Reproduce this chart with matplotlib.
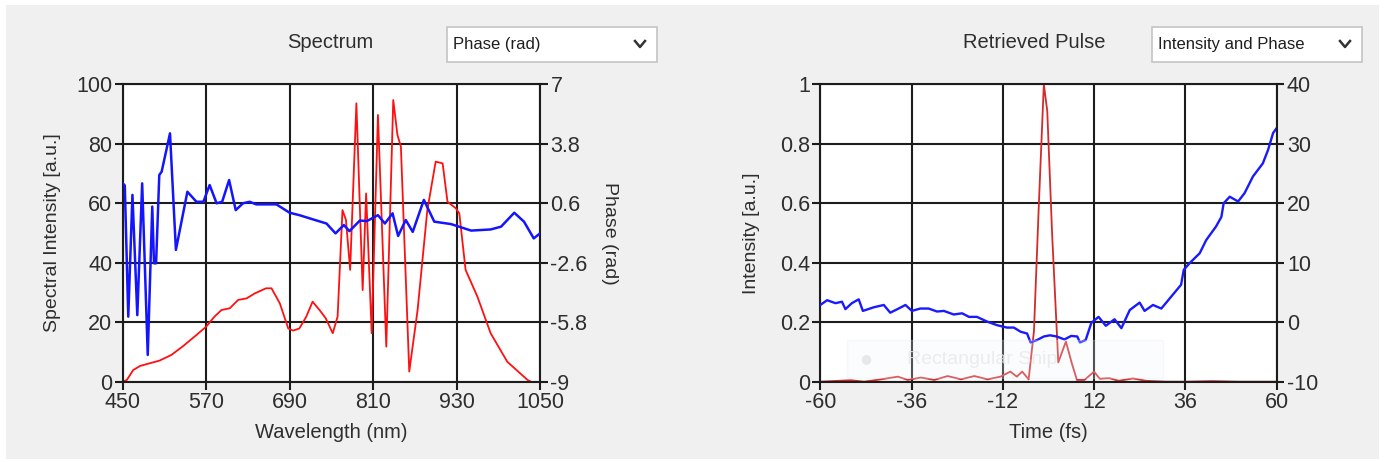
import matplotlib
matplotlib.use("Agg")
from matplotlib import pyplot as plt
from matplotlib.patches import Rectangle
from matplotlib.lines import Line2D
import numpy as np

# ---- spectrum panel data ----
wl_phase = [450, 453, 458, 464, 471, 478, 486, 492.5, 495, 498, 502.6, 506, 518, 526.5,
            543, 556, 566, 575, 585, 593, 603, 612.5, 623, 632.6, 642, 671, 690, 704,
            723, 743, 756, 768, 776, 791, 801, 817, 827, 838, 846, 857, 867, 883, 898,
            922, 951, 979, 994, 1013, 1027, 1041, 1049]
phase_rad = [1.67, 1.56, -5.50, 1.05, -5.42, 1.67, -7.56, 0.42, -2.63, -2.63, 2.12, 2.30,
             4.36, -1.91, 1.22, 0.68, 0.68, 1.58, 0.60, 0.68, 1.85, 0.23, 0.60, 0.68,
             0.54, 0.54, 0.09, -0.04, -0.26, -0.49, -1.02, -0.57, -0.90, -0.33, -0.36,
             -0.04, -0.49, 0.06, -1.16, -0.30, -0.94, 0.78, -0.39, -0.52, -0.87, -0.81,
             -0.66, 0.09, -0.39, -1.29, -1.05]

wl_spec = [450, 456, 465, 475, 489, 503, 520, 537, 556, 570, 582, 592, 604, 616, 628, 640,
           656, 664, 676, 688, 695, 704, 714, 723, 733, 742, 752, 759, 766, 771, 777, 786,
           795, 800, 808, 817, 829, 839, 845, 850, 862, 874, 888, 900, 910, 917, 929, 934,
           943, 960, 979, 1003, 1032, 1037]
spec_int = [0, 0.6, 3.9, 5.3, 6.2, 7.1, 9, 12, 15.7, 18.5, 21.9, 24.1, 24.7, 27.5, 28, 29.7,
            31.4, 31.4, 26.3, 17.9, 17.2, 17.9, 21.9, 26.9, 24.1, 21.3, 16.3, 21.9, 57.7,
            54.4, 37.6, 93.6, 30.8, 63.3, 16.3, 89.7, 11.8, 94.7, 83, 79, 3.4, 24.1, 57.7,
            74, 73.4, 60.5, 58.3, 56.6, 37.6, 28.6, 16.3, 6.7, 0.6, 0]

wl_ticks = [450, 570, 690, 810, 930, 1050]
spec_ticks = [0, 20, 40, 60, 80, 100]
phase_ticks = [-9, -5.8, -2.6, 0.6, 3.8, 7]
phase_labels = ["-9", "-5.8", "-2.6", "0.6", "3.8", "7"]

# ---- retrieved pulse panel data ----
t_int = [-60, -52, -48.5, -44, -39.6, -37, -33.5, -30, -26.5, -23, -19.5, -16, -12.6, -10,
         -8.3, -6.9, -5.2, -3.8, -2.5, -1.2, -0.3, 1, 2.6, 4.6, 6.2, 7.5, 9.5, 12, 13.5, 16,
         18.5, 22.2, 25.7, 31, 36, 43, 50, 60]
pulse_int = [0, 0.005, 0, 0.008, 0.017, 0.006, 0.014, 0.006, 0.019, 0.008, 0.019, 0.008,
             0.017, 0.034, 0.017, 0.034, 0.008, 0.17, 0.6, 1.0, 0.91, 0.49, 0.065, 0.135,
             0.06, 0.006, 0.006, 0.034, 0.01, 0.012, 0.003, 0.011, 0.003, 0, 0, 0.002, 0, 0]

t_phase = [-60, -58.2, -56, -54.3, -53.4, -51.7, -49.9, -48.8, -46, -43.3, -41.6, -39.4,
           -37.6, -35.9, -33.7, -31.5, -29.3, -27.5, -24.9, -22.7, -20.9, -18.8, -16.1,
           -13.5, -10.9, -9.1, -7.3, -5.6, -4.7, -3, -1.2, 0.4, 2.2, 4.2, 6, 7.6, 8.3, 9.8,
           11.3, 13.2, 15.1, 17.4, 19.2, 21.4, 24, 25.3, 27.5, 29.7, 32.3, 34.9, 35.6, 37.1,
           39.8, 41.5, 44.1, 45.5, 46.1, 47.7, 49.9, 51.6, 53.8, 56.4, 57.8, 59.1, 60]
pulse_phase = [2.9, 3.7, 3.2, 3.45, 2.2, 3.2, 3.85, 1.9, 2.5, 2.9, 1.6, 2.3, 2.9, 1.9, 2.3,
               2.3, 1.8, 1.9, 1.3, 1.5, 0.9, 0.9, 0.1, -0.5, -0.9, -0.9, -1.6, -1.9, -3.4,
               -3.0, -2.4, -2.2, -2.4, -2.9, -2.3, -2.4, -3.4, -3.0, -0.1, 0.9, -0.6, 0.5,
               -1.0, 2.05, 3.3, 1.9, 2.9, 2.3, 4.3, 6.3, 8.8, 9.9, 11.6, 13.8, 16.1, 17.7,
               20, 21.1, 20.3, 21.7, 24.5, 26.7, 29, 31.8, 32.6]

t_ticks = [-60, -36, -12, 12, 36, 60]
int_ticks = [0, 0.2, 0.4, 0.6, 0.8, 1]
int_labels = ["0", "0.2", "0.4", "0.6", "0.8", "1"]
ph_ticks = [-10, 0, 10, 20, 30, 40]

plt.rcParams['font.family'] = ['Liberation Sans', 'DejaVu Sans']
plt.rcParams['axes.unicode_minus'] = False

W, H = 1384, 462
TXT = '#2e2e2e'
GRID = '#1c1c1c'


def fx(x):
    return x / W


def fy(y):
    return 1 - y / H


fig = plt.figure(figsize=(W / 100, H / 100), dpi=100, facecolor='white')
fig.patches.append(Rectangle((fx(6), fy(459)), fx(1379) - fx(6), fy(5) - fy(459),
                             transform=fig.transFigure, facecolor='#f0f0f0',
                             edgecolor='none', zorder=-10))


def style(ax, twin):
    for s in ax.spines.values():
        s.set_color(GRID)
        s.set_linewidth(1.5)
    for a in (ax, twin):
        a.tick_params(direction='out', length=6, width=1.5, color=GRID,
                      labelsize=15.5, labelcolor=TXT, pad=1.5)
    for s in twin.spines.values():
        s.set_visible(False)
    ax.grid(True, color=GRID, linewidth=1.5)
    ax.set_axisbelow(True)


def dropdown(x0, x1, label):
    fig.patches.append(Rectangle((fx(x0), fy(62)), fx(x1) - fx(x0), fy(27) - fy(62),
                                 transform=fig.transFigure, facecolor='white',
                                 edgecolor='#c4c4c4', linewidth=1.2))
    fig.text(fx(x0 + 6), fy(45), label, fontsize=12, color='#1e1e1e', va='center', ha='left')
    cx = x1 - 17
    fig.lines.append(Line2D([fx(cx - 5), fx(cx), fx(cx + 5)], [fy(41), fy(47), fy(41)],
                            transform=fig.transFigure, color='#333333', linewidth=1.8))


# ---- left panel ----
ax1 = fig.add_axes([fx(122.7), fy(381.7), fx(540) - fx(122.7), fy(84.3) - fy(381.7)])
ax1.set_facecolor('white')
ax1.plot(wl_spec, spec_int, color='#ff1010', linewidth=1.3)
ax1.set_xlim(450, 1050)
ax1.set_ylim(0, 100)
ax1.set_xticks(wl_ticks)
ax1.set_yticks(spec_ticks)
ax1.set_xlabel('Wavelength (nm)', fontsize=14.5, color=TXT, labelpad=7)
ax1.set_ylabel('Spectral Intensity [a.u.]', fontsize=14, color=TXT, labelpad=11)
ax1b = ax1.twinx()
ax1b.plot(wl_phase, phase_rad, color='#1414ff', linewidth=1.8)
ax1b.set_ylim(-9, 7)
ax1b.set_yticks(phase_ticks)
ax1b.set_yticklabels(phase_labels)
ax1b.set_ylabel('Phase (rad)', fontsize=14, color=TXT, rotation=270, labelpad=22)
style(ax1, ax1b)

# ---- right panel ----
ax2 = fig.add_axes([fx(820.3), fy(381.7), fx(1276.5) - fx(820.3), fy(84.3) - fy(381.7)])
ax2.set_facecolor('white')
ax2.plot(t_int, pulse_int, color='#d42a2a', linewidth=1.3)
ax2.set_xlim(-60, 60)
ax2.set_ylim(0, 1)
ax2.set_xticks(t_ticks)
ax2.set_yticks(int_ticks)
ax2.set_yticklabels(int_labels)
ax2.set_xlabel('Time (fs)', fontsize=14.5, color=TXT, labelpad=7)
ax2.set_ylabel('Intensity [a.u.]', fontsize=14, color=TXT, labelpad=14)
ax2b = ax2.twinx()
ax2b.plot(t_phase, pulse_phase, color='#1a1aff', linewidth=1.7)
ax2b.set_ylim(-10, 40)
ax2b.set_yticks(ph_ticks)
style(ax2, ax2b)

# faint screen-capture overlay in the right panel
fig.patches.append(Rectangle((fx(847), fy(378)), fx(1163) - fx(847), fy(340) - fy(378),
                             transform=fig.transFigure, facecolor='#eef4fb',
                             edgecolor='#e2eaf4', linewidth=1, alpha=0.25, zorder=5))
fig.text(fx(866), fy(359), '\u25cf', fontsize=9, color='#e4e4e4', ha='center', va='center',
         zorder=6, family='DejaVu Sans', alpha=0.8)
fig.text(fx(907), fy(359), 'Rectangular Snip', fontsize=14, color='#e8e8e8',
         ha='left', va='center', zorder=6, alpha=0.8)

# titles and selector boxes
fig.text(fx(330), fy(42), 'Spectrum', fontsize=14.5, color=TXT, ha='center', va='center')
fig.text(fx(1034), fy(42), 'Retrieved Pulse', fontsize=14.5, color=TXT, ha='center', va='center')
dropdown(447, 657, 'Phase (rad)')
dropdown(1152, 1362, 'Intensity and Phase')

fig.savefig('out.png', dpi=100, facecolor=fig.get_facecolor())
